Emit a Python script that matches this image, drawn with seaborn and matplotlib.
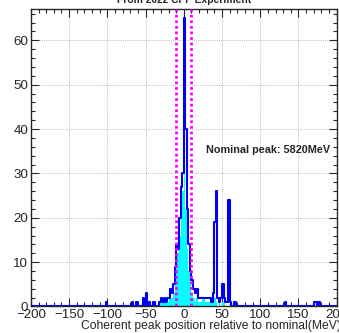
import pandas as pd
import matplotlib
matplotlib.use("Agg")
import matplotlib.pyplot as plt
import seaborn as sns
from matplotlib.ticker import MultipleLocator

# 2 MeV bins, only non-empty bins listed (bin centres in MeV)
all_centers = [-101, -67, -61, -53, -49, -45, -39, -31, -29, -27, -25, -23, -21, -19,
               -17, -15, -13, -11, -9, -7, -5, -3, -1, 1, 3, 5, 7, 9, 11, 13, 15, 17,
               19, 21, 23, 25, 27, 29, 31, 33, 35, 37, 39, 41, 43, 45, 47, 49, 51, 53,
               55, 57, 59, 61, 67, 133, 171, 173, 177]
all_counts = [1, 1, 1, 2, 3, 1, 1, 1, 2, 1, 2, 1, 2, 2,
              4, 3, 5, 9, 14, 13, 20, 27, 30, 65, 40, 22, 14, 8, 6, 4, 3, 4,
              2, 2, 2, 2, 2, 2, 2, 2, 2, 1, 3, 19, 26, 2, 1, 2, 5, 2,
              1, 1, 24, 1, 1, 1, 1, 1, 1]

sel_centers = [-31, -29, -27, -25, -23, -21, -19, -17, -15, -13, -11, -9, -7, -5, -3,
               -1, 1, 3, 5, 7, 9, 11, 13, 15, 17, 19, 21, 23, 25, 27, 29, 31, 33, 35,
               37, 39, 41, 43, 47, 51, 53]
sel_counts = [1, 1, 1, 1, 1, 1, 2, 2, 2, 3, 6, 12, 12, 16, 22,
              26, 30, 22, 13, 8, 5, 3, 2, 1, 2, 1, 1, 1, 2, 2, 1, 1, 1, 1,
              1, 2, 2, 1, 1, 1, 1]

window = [-10, 10]
bin_edges = list(range(-200, 202, 2))

df_all = pd.DataFrame({"pos": all_centers, "n": all_counts})
df_sel = pd.DataFrame({"pos": sel_centers, "n": sel_counts})

sns.set_style("ticks")
plt.rcParams['font.family'] = ['Liberation Sans', 'DejaVu Sans']

fig = plt.figure(figsize=(3.39, 3.33), dpi=100)
ax = fig.add_axes([0.0912, 0.0796, 0.902, 0.8925])

sns.histplot(data=df_sel, x="pos", weights="n", bins=bin_edges, element="step",
             fill=True, color="#00ffff", alpha=1, linewidth=0, ax=ax, zorder=2)
sns.histplot(data=df_all, x="pos", weights="n", bins=bin_edges, element="step",
             fill=False, color="#0000ee", linewidth=1.5, ax=ax, zorder=3)

for xv in window:
    ax.axvline(xv, color="#ff00ff", linestyle=(0, (1, 1)), linewidth=2, zorder=4)

ax.set_xlim(-200, 200)
ax.set_ylim(0, 67)
ax.xaxis.set_major_locator(MultipleLocator(50))
ax.xaxis.set_minor_locator(MultipleLocator(10))
ax.yaxis.set_major_locator(MultipleLocator(10))
ax.yaxis.set_minor_locator(MultipleLocator(2))
ax.tick_params(which="both", direction="in", top=True, right=True, labelsize=9.6)
ax.tick_params(which="major", length=6, width=0.8)
ax.tick_params(which="minor", length=3, width=0.8)
ax.tick_params(axis="x", pad=2)
ax.tick_params(axis="y", pad=2)
ax.grid(True, which="major", color="#aaaaaa", linestyle=(0, (1, 1.5)), linewidth=0.6)
ax.set_axisbelow(True)
for s in ax.spines.values():
    s.set_linewidth(1)
ax.set_xlabel("")
ax.set_ylabel("")

ax.text(29.5, 34.5, "Nominal peak: 5820MeV", fontsize=7.8, fontweight="bold")
fig.text(1.006, 0.002, "Coherent peak position relative to nominal(MeV)",
         ha="right", va="bottom", fontsize=8.7)
fig.text(0.543, 0.991, "From 2022 CPP Experiment", ha="center", va="baseline",
         fontsize=7.4, fontweight="bold")

fig.savefig("out.png", dpi=100)
